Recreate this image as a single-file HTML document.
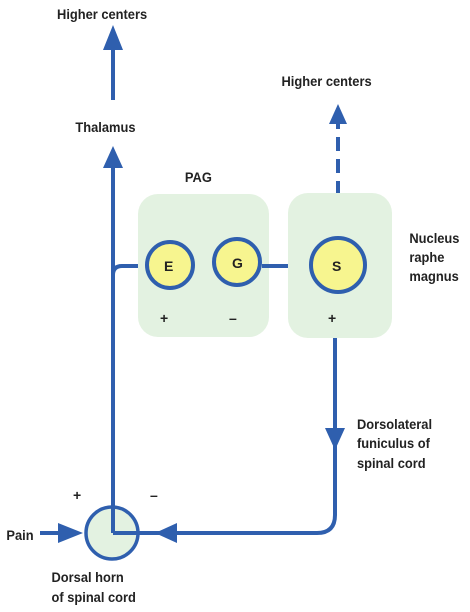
<!DOCTYPE html>
<html><head><style>body{margin:0;background:#fff}svg{display:block}text{font-family:"Liberation Sans",sans-serif;font-weight:bold;font-size:14px;fill:#222}</style></head><body>
<svg width="470" height="612" xmlns="http://www.w3.org/2000/svg">
<g stroke="#2f5fae" stroke-width="4" fill="none">
<line x1="113" y1="100" x2="113" y2="45"/>
<line x1="113" y1="533" x2="113" y2="165"/>
<path d="M113 275 Q113 266 122 266 L140 266"/>
<line x1="338" y1="195" x2="338" y2="120" stroke-dasharray="14,8"/>
<path d="M335 338 L335 515 Q335 533 317 533 L139 533"/>
<line x1="40" y1="533" x2="70" y2="533"/>
</g>
<rect x="138" y="194" width="131" height="143" rx="20" fill="#e3f2e1"/>
<rect x="288" y="193" width="104" height="145" rx="20" fill="#e3f2e1"/>
<line x1="262" y1="266" x2="288" y2="266" stroke="#2f5fae" stroke-width="4"/>
<g fill="#f7f58f" stroke="#2f5fae" stroke-width="4">
<circle cx="170" cy="265" r="23"/><circle cx="237" cy="262" r="23"/><circle cx="338" cy="265" r="27"/>
</g>
<circle cx="112" cy="533" r="26" fill="#e3f2e1" stroke="#2f5fae" stroke-width="3.5"/>
<path d="M113 533 L113 505 M113 533 L139 533" stroke="#2f5fae" stroke-width="4" fill="none"/>
<g fill="#2f5fae">
<polygon points="113,25 103,50 123,50"/>
<polygon points="113,146 103,168 123,168"/>
<polygon points="338,104 329,124 347,124"/>
<polygon points="335,450 325,428 345,428"/>
<polygon points="155,533 177,523 177,543"/>
<polygon points="83,533 58,523 58,543"/>
</g>
<g transform="scale(0.92,1)">
<text x="62" y="19">Higher centers</text>
<text x="306" y="86">Higher centers</text>
<text x="82" y="132">Thalamus</text>
<text x="201" y="182">PAG</text>
<text x="445" y="243">Nucleus</text><text x="445" y="262">raphe</text><text x="445" y="281">magnus</text>
<text x="388" y="429">Dorsolateral</text><text x="388" y="448">funiculus of</text><text x="388" y="468">spinal cord</text>
<text x="7" y="540">Pain</text>
<text x="56" y="582">Dorsal horn</text><text x="56" y="602">of spinal cord</text>
</g>
<text x="164" y="271" font-size="16">E</text><text x="232" y="268" font-size="16">G</text><text x="332" y="271" font-size="16">S</text>
<text x="160" y="323" font-size="16">+</text><text x="229" y="323" font-size="16">–</text><text x="328" y="323" font-size="16">+</text>
<text x="73" y="500" font-size="15">+</text><text x="150" y="500" font-size="15">–</text>
</svg>
</body></html>
